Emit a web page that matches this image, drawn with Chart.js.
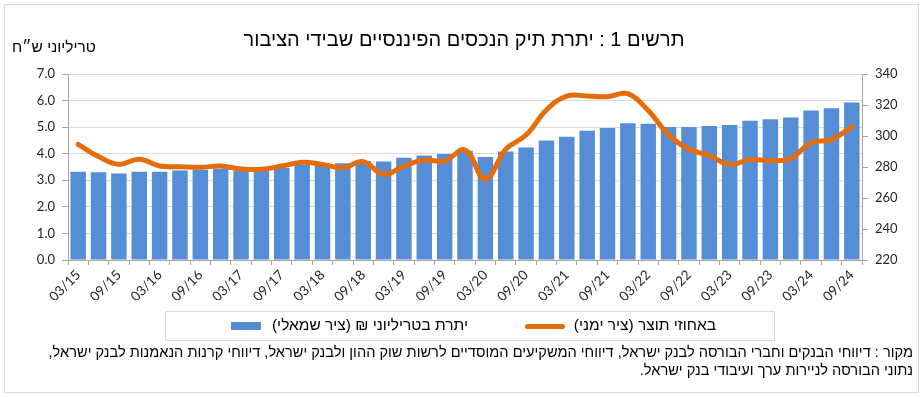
<!DOCTYPE html>
<html lang="he">
<head>
<meta charset="utf-8">
<script src="https://cdn.jsdelivr.net/npm/chart.js@4"></script>
<style>
  html, body { margin: 0; padding: 0; background: #fff; }
  #wrap { position: relative; width: 924px; height: 397px; overflow: hidden; }
  #frame { position: absolute; left: 4px; top: 4px; width: 913px; height: 387px; border: 1px solid #d9d9d9; }
  #chart { position: absolute; left: 0; top: 0; }
  .heb { position: absolute; direction: rtl; font-family: 'Liberation Sans', Arial, sans-serif; color: #000; white-space: nowrap; }
  #title { left: 0; width: 928px; top: 28px; text-align: center; font-size: 20px; }
  #ytitle { left: 12px; top: 38px; font-size: 15.5px; }
  #legend { position: absolute; left: 165px; top: 311px; width: 608px; height: 28px; border: 1px solid #d9d9d9; }
  .swatch { position: absolute; }
  #note { right: 11px; top: 343px; font-size: 14.6px; line-height: 18px; text-align: right; }
</style>
</head>
<body>
<div id="wrap">
  <div id="frame"></div>
  <canvas id="chart" width="924" height="397"></canvas>
  <div id="title" class="heb">תרשים 1 : יתרת תיק הנכסים הפיננסיים שבידי הציבור</div>
  <div id="ytitle" class="heb">טריליוני ש״ח</div>
  <div id="legend"></div>
  <div id="note" class="heb">מקור : דיווחי הבנקים וחברי הבורסה לבנק ישראל, דיווחי המשקיעים המוסדיים לרשות שוק ההון ולבנק ישראל, דיווחי קרנות הנאמנות לבנק ישראל,<br>נתוני הבורסה לניירות ערך ועיבודי בנק ישראל.</div>
</div>
<script>
// ── Données ──
var QUARTERS = [
  '03/15', '06/15', '09/15', '12/15',
  '03/16', '06/16', '09/16', '12/16',
  '03/17', '06/17', '09/17', '12/17',
  '03/18', '06/18', '09/18', '12/18',
  '03/19', '06/19', '09/19', '12/19',
  '03/20', '06/20', '09/20', '12/20',
  '03/21', '06/21', '09/21', '12/21',
  '03/22', '06/22', '09/22', '12/22',
  '03/23', '06/23', '09/23', '12/23',
  '03/24', '06/24', '09/24'
];

// יתרת בטריליוני ש"ח (ציר שמאלי)
var BALANCE = [
  3.32, 3.30, 3.26, 3.32,
  3.32, 3.37, 3.40, 3.43,
  3.36, 3.38, 3.47, 3.58,
  3.64, 3.64, 3.73, 3.71,
  3.85, 3.93, 3.99, 4.11,
  3.88, 4.08, 4.23, 4.50,
  4.64, 4.86, 4.97, 5.15,
  5.13, 5.01, 5.01, 5.04,
  5.08, 5.24, 5.30, 5.36,
  5.63, 5.71, 5.93
];

// באחוזי תוצר (ציר ימני)
var GDP_PCT = [
  294.6, 286.7, 281.7, 285.0,
  280.6, 280.2, 279.8, 280.6,
  278.7, 278.5, 280.6, 283.0,
  281.7, 279.6, 283.4, 275.3,
  280.6, 284.5, 283.9, 291.0,
  272.1, 291.4, 300.6, 316.8,
  325.8, 325.8, 325.4, 327.3,
  316.4, 300.7, 291.4, 287.4,
  281.5, 284.8, 284.1, 285.5,
  295.7, 297.7, 306.1
];

var LEFT_TICKS = { min: 0, max: 7, step: 1 };
var RIGHT_TICKS = { min: 220, max: 340, step: 20 };

var COLORS = {
  bar: '#558ED5',
  line: '#E46C0A',
  grid: '#d9d9d9',
  axis: '#a6a6a6',
  text: '#262626'
};

var LEGEND_ITEMS = [
  { label: 'באחוזי תוצר (ציר ימני)', color: COLORS.line, kind: 'line' },
  { label: 'יתרת בטריליוני ₪ (ציר שמאלי)', color: COLORS.bar, kind: 'box' }
];

var tickFont = { family: 'Lato, "Open Sans", sans-serif', size: 13 };

// ── Graphique ──
var chart = new Chart(document.getElementById('chart'), {
  type: 'bar',
  data: {
    labels: QUARTERS,
    datasets: [
      {
        type: 'line',
        label: LEGEND_ITEMS[0].label,
        data: GDP_PCT,
        yAxisID: 'yRight',
        borderColor: COLORS.line,
        borderWidth: 5,
        borderCapStyle: 'round',
        borderJoinStyle: 'round',
        tension: 0.4,
        pointRadius: 0,
        fill: false,
        order: 0
      },
      {
        type: 'bar',
        label: LEGEND_ITEMS[1].label,
        data: BALANCE,
        yAxisID: 'yLeft',
        backgroundColor: COLORS.bar,
        barPercentage: 0.76,
        categoryPercentage: 1,
        order: 1
      }
    ]
  },
  options: {
    responsive: false,
    animation: false,
    layout: { padding: { top: 74, bottom: 97, left: 0, right: 0 } },
    plugins: {
      legend: { display: false },
      tooltip: { enabled: false },
      title: { display: false }
    },
    scales: {
      x: {
        type: 'category',
        offset: true,
        grid: { offset: true, drawOnChartArea: false, drawTicks: true, tickLength: 5, color: COLORS.axis },
        border: { color: COLORS.axis },
        ticks: {
          autoSkip: false,
          maxRotation: 45,
          minRotation: 45,
          padding: 2,
          color: COLORS.text,
          font: { family: tickFont.family, size: 13.5 },
          callback: function(v, i) { return i % 2 === 0 ? QUARTERS[i] : ''; }
        },
        afterFit: function(s) { s.height = 40; }
      },
      yLeft: {
        position: 'left',
        min: LEFT_TICKS.min,
        max: LEFT_TICKS.max,
        grid: { color: COLORS.grid, tickLength: 6, tickColor: COLORS.axis },
        border: { color: COLORS.axis },
        ticks: {
          stepSize: LEFT_TICKS.step,
          padding: 7,
          color: COLORS.text,
          font: tickFont,
          callback: function(v) { return v.toFixed(1); }
        },
        afterFit: function(s) { s.width = 68; }
      },
      yRight: {
        position: 'right',
        min: RIGHT_TICKS.min,
        max: RIGHT_TICKS.max,
        grid: { drawOnChartArea: false, tickLength: 6, color: COLORS.axis },
        border: { color: COLORS.axis },
        ticks: {
          stepSize: RIGHT_TICKS.step,
          padding: 7,
          color: COLORS.text,
          font: tickFont
        },
        afterFit: function(s) { s.width = 62; }
      }
    }
  }
});

// ── Légende manuelle ──
var legendEl = document.getElementById('legend');
var legendPos = [
  { swatchLeft: 359, textRight: 58 },
  { swatchLeft: 65, textRight: 306 }
];
LEGEND_ITEMS.forEach(function(item, i) {
  var sw = document.createElement('span');
  sw.className = 'swatch';
  sw.style.left = legendPos[i].swatchLeft + 'px';
  sw.style.background = item.color;
  if (item.kind === 'line') {
    sw.style.width = '40px'; sw.style.height = '5px'; sw.style.top = '12px'; sw.style.borderRadius = '3px';
  } else {
    sw.style.width = '30px'; sw.style.height = '8px'; sw.style.top = '10px';
  }
  legendEl.appendChild(sw);
  var txt = document.createElement('span');
  txt.className = 'heb';
  txt.style.right = legendPos[i].textRight + 'px';
  txt.style.top = '4px';
  txt.style.fontSize = '15.5px';
  txt.textContent = item.label;
  legendEl.appendChild(txt);
});
</script>
</body>
</html>
